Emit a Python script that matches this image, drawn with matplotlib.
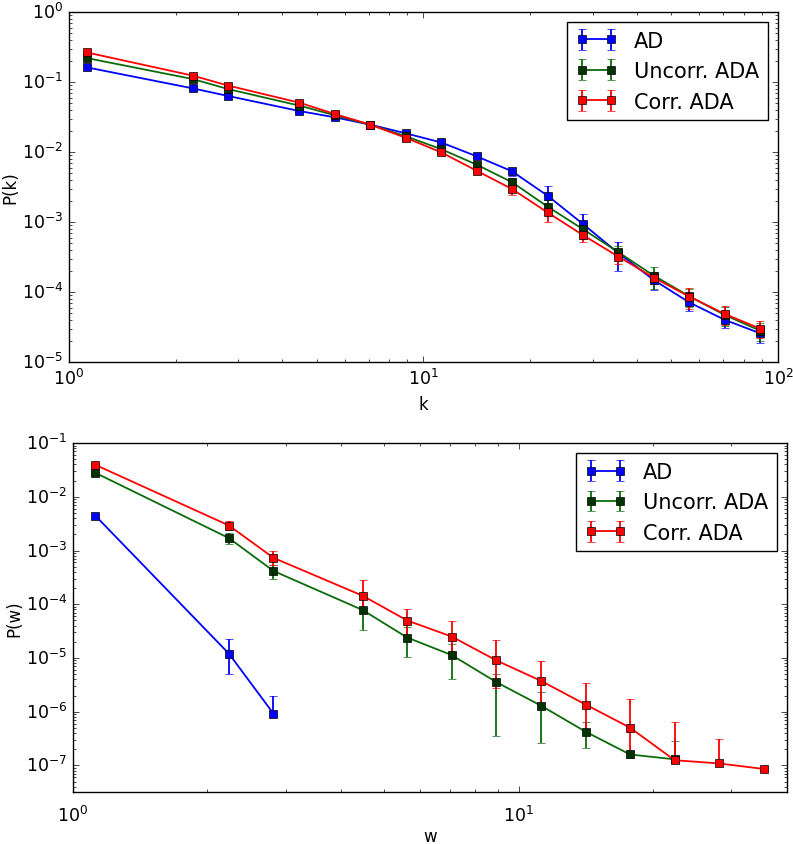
import numpy
import matplotlib
matplotlib.use("Agg")
import matplotlib.pyplot as plt

plt.style.use("classic")

# bin centres (log bins), shared by both panels
bins = [1.122, 2.239, 2.818, 4.467, 5.623, 7.079, 8.913, 11.22, 14.13,
        17.78, 22.39, 28.18, 35.48, 44.67, 56.23, 70.79, 89.13]

labels = ["AD", "Uncorr. ADA", "Corr. ADA"]

# ---- degree distribution P(k)
pk_ad = [0.162, 0.081, 0.063, 0.0385, 0.0313, 0.0246, 0.0185, 0.0137, 0.00868,
         0.0053, 0.00238, 0.000936, 0.00036, 0.000148, 7.1e-5, 4.0e-5, 2.57e-5]
pk_ad_err = [0.005, 0.002, 0.0015, 0.0008, 0.0006, 0.0005, 0.0006, 0.0006, 0.0006,
             0.0007, 0.00086, 0.00036, 0.00016, 4.0e-5, 1.7e-5, 9e-6, 7e-6]

pk_unc = [0.22, 0.11, 0.079, 0.046, 0.0335, 0.0245, 0.0168, 0.011, 0.0066,
          0.0037, 0.00166, 0.00079, 0.00037, 0.000171, 8.7e-5, 4.7e-5, 2.8e-5]
pk_unc_err = [0.006, 0.003, 0.002, 0.001, 0.0007, 0.0005, 0.0005, 0.0005, 0.0005,
              0.0005, 0.0004, 0.00018, 8e-5, 6e-5, 2.5e-5, 1.4e-5, 8e-6]

pk_cor = [0.265, 0.123, 0.0887, 0.0507, 0.0349, 0.0246, 0.016, 0.0099, 0.0054,
          0.00296, 0.00137, 0.00065, 0.00032, 0.00016, 8.6e-5, 4.85e-5, 3.0e-5]
pk_cor_err = [0.006, 0.003, 0.002, 0.001, 0.0007, 0.0005, 0.0005, 0.0005, 0.0004,
              0.0005, 0.00037, 0.00014, 7e-5, 3e-5, 2.8e-5, 1.5e-5, 8e-6]

# ---- weight distribution P(w), asymmetric errors (down, up)
pw_ad = [4.47e-3, 1.2e-5, 9.2e-7]
pw_ad_lo = [2e-4, 7e-6, 1e-7]
pw_ad_hi = [2e-4, 1.1e-5, 1.0e-6]

pw_unc = [0.028, 0.0017, 0.000416, 7.8e-5, 2.4e-5, 1.13e-5, 3.55e-6, 1.3e-6,
          4.25e-7, 1.6e-7, 1.3e-7]
pw_unc_lo = [1e-3, 0.00038, 0.000126, 4.45e-5, 1.35e-5, 7.2e-6, 3.2e-6, 1.04e-6,
             2.15e-7, 2e-8, 1e-8]
pw_unc_hi = [1e-3, 0.0004, 0.00013, 4.5e-5, 1.4e-5, 7e-6, 1.5e-6, 1.0e-6,
             2.2e-7, 2e-8, 1.5e-7]

pw_cor = [0.0394, 0.00292, 0.00073, 0.000144, 4.98e-5, 2.5e-5, 9e-6, 3.76e-6,
          1.36e-6, 5.05e-7, 1.25e-7, 1.09e-7, 8.6e-8]
pw_cor_lo = [2e-3, 5e-4, 2.0e-4, 6e-5, 2.5e-5, 1.2e-5, 6.2e-6, 2.3e-6,
             9e-7, 3.2e-7, 1e-8, 1e-8, 5e-9]
pw_cor_hi = [2e-3, 6e-4, 2.7e-4, 1.35e-4, 3.2e-5, 2.3e-5, 1.29e-5, 5e-6,
             2.0e-6, 1.2e-6, 5.3e-7, 2.07e-7, 5e-9]

line_colors = ["#0000ff", "#0b6b0b", "#ff0000"]
face_colors = ["#0000ff", "#003300", "#ff0000"]

fig = plt.figure(figsize=(7.93, 8.45), dpi=100, facecolor="white")
ax1 = fig.add_axes([0.087, 0.5704, 0.894, 0.4142])
ax2 = fig.add_axes([0.092, 0.0615, 0.9004, 0.413])

# top panel
for ys, err, lc, fc, lab in zip([pk_ad, pk_unc, pk_cor],
                                [pk_ad_err, pk_unc_err, pk_cor_err],
                                line_colors, face_colors, labels):
    ax1.errorbar(bins[:len(ys)], ys, yerr=err, fmt="s-", color=lc, mfc=fc,
                 mec="black", ecolor=lc, capsize=3, lw=1.3, ms=6, label=lab)
ax1.set_xscale("log")
ax1.set_yscale("log")
ax1.set_xlim(1, 100)
ax1.set_ylim(1e-5, 1)
ax1.set_xlabel("k", fontsize=12)
ax1.set_ylabel("P(k)", fontsize=12, labelpad=2)
ax1.legend(loc="upper right", numpoints=2, fontsize=15)

# bottom panel
for ys, lo, hi, lc, fc, lab in zip([pw_ad, pw_unc, pw_cor],
                                   [pw_ad_lo, pw_unc_lo, pw_cor_lo],
                                   [pw_ad_hi, pw_unc_hi, pw_cor_hi],
                                   line_colors, face_colors, labels):
    ax2.errorbar(bins[:len(ys)], ys, yerr=[lo, hi], fmt="s-", color=lc, mfc=fc,
                 mec="black", ecolor=lc, capsize=3, lw=1.3, ms=6, label=lab)
ax2.set_xscale("log")
ax2.set_yscale("log")
ax2.set_xlim(1, 40)
ax2.set_ylim(3.2e-8, 0.1)
ax2.set_xlabel("w", fontsize=12)
ax2.xaxis.set_label_coords(0.5, -0.1)
ax2.set_ylabel("P(w)", fontsize=12, labelpad=2)
ax2.legend(loc="upper right", numpoints=2, fontsize=15)

for ax in (ax1, ax2):
    ax.tick_params(labelsize=12.5)
ax2.tick_params(axis="x", pad=9)

fig.savefig("out.png", dpi=100, facecolor="white")
